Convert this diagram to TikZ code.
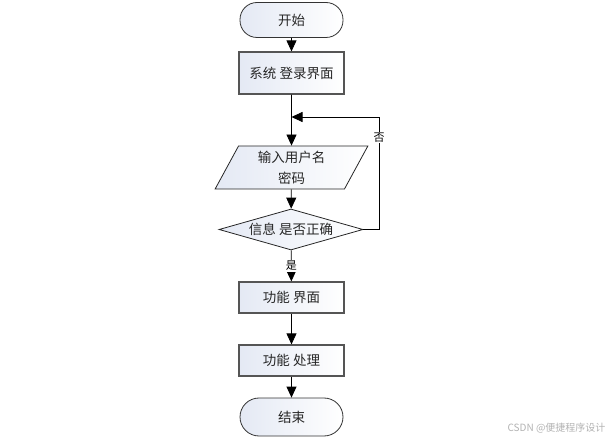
\documentclass[tikz,border=0pt]{standalone}
\usepackage{fontspec}
\setmainfont{Noto Sans CJK SC}
\usetikzlibrary{shapes.geometric,arrows.meta,calc}
\definecolor{boxline}{HTML}{555555}
\definecolor{boxfill}{HTML}{E4E9F4}
\tikzset{
  x=1pt,y=-1pt,
  box/.style={draw=boxline,line width=1.2pt,left color=boxfill,right color=white,
    minimum width=105pt,minimum height=31pt,inner sep=0pt,text=black!85,
    font=\fontsize{13.5}{16}\selectfont},
  term/.style={box,draw=black!80,rounded corners=17pt,line width=0.8pt,minimum width=103pt,minimum height=35pt},
  io/.style={box,draw=black!85,line width=0.8pt,trapezium,trapezium left angle=66,trapezium right angle=114,
    trapezium stretches=true,minimum width=154pt,minimum height=43pt,align=center,
    font=\fontsize{13.5}{21}\selectfont},
  dec/.style={box,draw=black!85,line width=0.8pt,diamond,aspect=3.5,minimum width=144pt,minimum height=41pt},
  conn/.style={draw=black,line width=0.8pt,-{Triangle[length=11pt,width=10pt]}},
  lab/.style={fill=white,inner sep=1pt,font=\fontsize{11}{13}\selectfont}
}
\begin{document}
\begin{tikzpicture}
\useasboundingbox (0,0) rectangle (614,441);
\node[term] (start) at (291.5,20) {开始};
\node[box,minimum height=42pt] (login) at (291.5,73) {系统 登录界面};
\node[io] (input) at (291.5,167.5) {输入用户名\\密码};
\node[dec] (check) at (291,229.5) {信息 是否正确};
\node[box] (func) at (291.5,297.5) {功能 界面};
\node[box] (proc) at (291.5,360.5) {功能 处理};
\node[term,minimum height=38pt,rounded corners=19pt] (end) at (291.5,417) {结束};
\coordinate (join) at (291.5,117);
\coordinate (loopc) at (379,117);
\draw[conn] (start) -- (login);
\draw[conn] (login) -- (input);
\draw[conn] (input) -- (check);
\draw[conn] (check) -- node[lab,pos=0.5] {是} (func);
\draw[conn] (func) -- (proc);
\draw[conn] (proc) -- (end);
\draw[conn] (check.east) -| node[lab,pos=0.91] {否} (loopc) -- (join);
\node[text=gray!60,font=\fontsize{10}{12}\selectfont,anchor=east] (wm) at (609,428) {CSDN @便捷程序设计};
\end{tikzpicture}
\end{document}
